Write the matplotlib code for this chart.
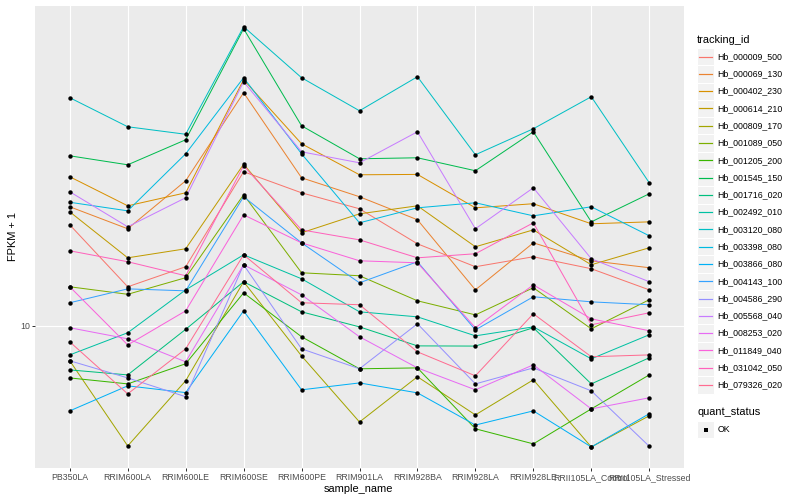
import numpy as np
import matplotlib
matplotlib.use('Agg')
import matplotlib.pyplot as plt
from matplotlib.patches import Rectangle
from matplotlib.lines import Line2D
from matplotlib.ticker import NullLocator

plt.rcParams['font.family'] = ['Liberation Sans', 'DejaVu Sans']

samples = ['PB350LA', 'RRIM600LA', 'RRIM600LE', 'RRIM600SE', 'RRIM600PE', 'RRIM901LA',
           'RRIM928BA', 'RRIM928LA', 'RRIM928LE', 'RRII105LA_Control', 'RRII105LA_Stressed']

# FPKM + 1 per gene
Hb_000009_500 = [17.88, 12.52, 14.05, 24.27, 21.50, 19.61, 16.03, 14.05, 14.88, 13.89, 12.30]
Hb_000069_130 = [19.84, 17.48, 23.04, 38.24, 23.44, 21.02, 18.41, 12.30, 16.12, 14.54, 13.97]
Hb_000402_230 = [23.58, 19.95, 21.50, 41.21, 28.51, 23.85, 23.90, 19.72, 20.19, 17.99, 18.19]
Hb_000614_210 = [19.27, 14.79, 15.58, 25.34, 17.08, 19.05, 19.95, 15.76, 17.37, 14.21, 15.67]
Hb_000809_170 = [8.18, 5.01, 7.29, 12.89, 8.41, 5.75, 7.46, 5.99, 7.33, 4.98, 5.96]
Hb_001089_050 = [12.52, 11.99, 13.19, 21.26, 13.57, 13.34, 11.55, 10.65, 12.45, 9.83, 11.62]
Hb_001205_200 = [7.41, 7.16, 8.04, 12.09, 9.39, 7.81, 7.85, 5.53, 5.07, 6.20, 7.54]
Hb_001545_150 = [26.60, 25.26, 29.17, 55.27, 31.62, 26.15, 26.30, 24.41, 30.55, 18.19, 21.38]
Hb_001716_020 = [7.76, 7.54, 9.80, 12.89, 10.84, 9.94, 8.91, 8.90, 9.89, 7.16, 8.32]
Hb_002492_010 = [8.46, 9.61, 12.30, 15.05, 13.11, 10.84, 10.53, 9.44, 9.94, 8.27, 9.50]
Hb_003120_080 = [37.16, 31.44, 30.11, 55.91, 41.69, 34.47, 41.93, 26.76, 31.08, 37.37, 22.78]
Hb_003398_080 = [20.36, 19.38, 26.91, 41.69, 26.91, 18.09, 19.72, 20.30, 18.83, 19.84, 16.79]
Hb_003866_080 = [6.13, 7.08, 6.81, 10.90, 6.92, 7.20, 6.80, 5.65, 6.13, 4.98, 6.03]
Hb_004143_100 = [11.42, 12.37, 12.23, 21.02, 16.12, 12.81, 14.46, 9.77, 11.82, 11.48, 11.29]
Hb_004586_290 = [8.18, 7.41, 6.65, 14.21, 8.76, 7.81, 10.12, 7.16, 7.85, 6.88, 5.00]
Hb_005568_040 = [21.63, 17.68, 20.90, 40.74, 27.22, 25.55, 30.55, 17.48, 22.13, 14.71, 12.89]
Hb_008253_020 = [9.89, 9.28, 8.13, 14.21, 11.95, 9.39, 7.85, 6.92, 7.99, 6.20, 6.61]
Hb_011849_040 = [12.52, 8.96, 10.90, 18.94, 16.12, 14.54, 14.37, 9.89, 12.66, 10.41, 9.72]
Hb_031042_050 = [15.40, 14.46, 13.34, 25.12, 17.37, 16.40, 14.79, 15.14, 18.09, 10.06, 10.78]
Hb_079326_020 = [9.12, 6.76, 8.76, 15.05, 11.42, 11.29, 8.61, 7.50, 10.72, 8.37, 8.46]

tracking_ids = ['Hb_000009_500', 'Hb_000069_130', 'Hb_000402_230', 'Hb_000614_210', 'Hb_000809_170',
                'Hb_001089_050', 'Hb_001205_200', 'Hb_001545_150', 'Hb_001716_020', 'Hb_002492_010',
                'Hb_003120_080', 'Hb_003398_080', 'Hb_003866_080', 'Hb_004143_100', 'Hb_004586_290',
                'Hb_005568_040', 'Hb_008253_020', 'Hb_011849_040', 'Hb_031042_050', 'Hb_079326_020']
series = [Hb_000009_500, Hb_000069_130, Hb_000402_230, Hb_000614_210, Hb_000809_170,
          Hb_001089_050, Hb_001205_200, Hb_001545_150, Hb_001716_020, Hb_002492_010,
          Hb_003120_080, Hb_003398_080, Hb_003866_080, Hb_004143_100, Hb_004586_290,
          Hb_005568_040, Hb_008253_020, Hb_011849_040, Hb_031042_050, Hb_079326_020]

# ggplot hue palette, 20 levels
colors = ['#F8766D', '#EA8331', '#D89000', '#C09B00', '#A3A500', '#7CAE00', '#39B600', '#00BB4E',
          '#00BF7D', '#00C1A3', '#00BFC4', '#00BAE0', '#00B0F6', '#35A2FF', '#9590FF', '#C77CFF',
          '#E76BF3', '#FA62DB', '#FF62BC', '#FF6C91']

W, H = 800, 500
fig = plt.figure(figsize=(W / 72, H / 72), dpi=72)
fig.patch.set_facecolor('white')

def fx(x):
    return x / W

def fy(y):
    return 1 - y / H

ax = fig.add_axes([fx(35), fy(468), (684 - 35) / W, (468 - 5.7) / H])
ax.set_facecolor('#EBEBEB')
for s in ax.spines.values():
    s.set_visible(False)

x = np.arange(1, len(samples) + 1)
for vals, c in zip(series, colors):
    ax.plot(x, vals, color=c, lw=1.0, zorder=2, solid_capstyle='butt')
for vals in series:
    ax.plot(x, vals, 'o', color='black', ms=4.4, mew=0, zorder=3)

ax.set_yscale('log')
allv = np.log10(np.concatenate([np.asarray(v) for v in series]))
pad = 0.05 * (allv.max() - allv.min())
ax.set_ylim(10 ** (allv.min() - pad), 10 ** (allv.max() + pad))
ax.set_xlim(0.4, len(samples) + 0.6)
ax.set_yticks([10])
ax.set_yticklabels(['10'])
ax.yaxis.set_minor_locator(NullLocator())
ax.set_xticks(x)
ax.set_xticklabels(samples)
ax.tick_params(axis='both', length=2.75, width=1.0, color='#333333', labelsize=8.8,
               labelcolor='#4D4D4D', pad=2.2)
ax.grid(True, which='major', color='white', lw=1.1)
ax.set_axisbelow(True)

fig.text(fx(13), fy(236.5), 'FPKM + 1', rotation=90, ha='center', va='center', fontsize=11)
fig.text(fx(358.5), fy(489), 'sample_name', ha='center', va='center', fontsize=11)

# legend, ggplot style
kx0, kw = 697, 17.28
fig.text(fx(kx0), fy(40), 'tracking_id', ha='left', va='center', fontsize=11)
ky0 = 48
for i, (name, c) in enumerate(zip(tracking_ids, colors)):
    top = ky0 + i * kw
    fig.add_artist(Rectangle((fx(kx0), fy(top + kw)), kw / W, kw / H, transform=fig.transFigure,
                             facecolor='#F2F2F2', edgecolor='white', lw=1.0, zorder=1))
    yc = top + kw / 2
    fig.add_artist(Line2D([fx(kx0 + 2), fx(kx0 + kw - 2)], [fy(yc), fy(yc)], transform=fig.transFigure,
                          color=c, lw=1.2, zorder=5))
    fig.text(fx(kx0 + kw + 3), fy(yc), name, ha='left', va='center', fontsize=8.8)

fig.text(fx(kx0), fy(412), 'quant_status', ha='left', va='center', fontsize=11)
top = 421
fig.add_artist(Rectangle((fx(kx0), fy(top + kw)), kw / W, kw / H, transform=fig.transFigure,
                         facecolor='#F2F2F2', edgecolor='white', lw=1.0, zorder=1))
fig.add_artist(Line2D([fx(kx0 + kw / 2)], [fy(top + kw / 2)], transform=fig.transFigure,
                      marker='s', color='black', ms=3.5, mew=0, ls='none', zorder=5))
fig.text(fx(kx0 + kw + 3), fy(top + kw / 2), 'OK', ha='left', va='center', fontsize=8.8)

fig.savefig('out.png', dpi=72)
